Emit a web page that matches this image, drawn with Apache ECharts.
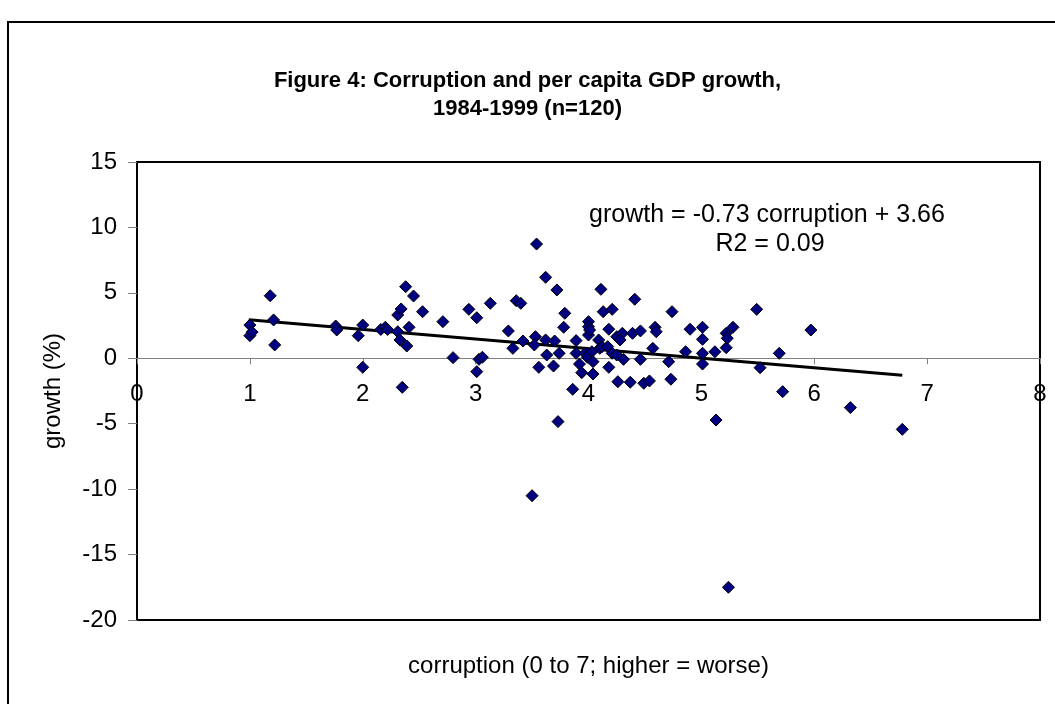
<!DOCTYPE html>
<html>
<head>
<meta charset="utf-8">
<script src="https://cdn.jsdelivr.net/npm/echarts@6/dist/echarts.min.js"></script>
<style>
html,body{margin:0;padding:0;background:#fff;}
#chart{width:1055px;height:704px;}
</style>
</head>
<body>
<div id="chart"></div>
<script>
// Data (corruption score, per capita GDP growth %)
var corruption = [
 1.00,1.00,1.02,1.18,1.21,1.22,1.76,1.77,1.96,2.00,2.00,2.16,2.20,2.22,2.31,2.34,2.31,2.33,2.39,2.35,
 2.41,2.38,2.45,2.53,2.71,2.80,2.94,3.01,3.13,3.03,3.06,3.01,3.29,3.33,3.36,3.40,3.42,3.53,3.52,3.62,
 3.72,3.63,3.69,3.56,3.62,3.70,3.54,3.79,3.78,3.74,3.86,3.73,3.89,3.89,3.92,3.94,4.00,4.00,4.00,4.01,
 3.97,3.99,4.03,4.04,4.04,4.09,4.10,4.11,4.13,4.21,4.12,4.17,4.18,4.18,4.21,4.25,4.26,4.25,4.30,4.28,
 4.31,4.37,4.39,4.41,4.46,4.46,4.49,4.54,4.57,4.59,4.60,4.71,4.73,4.74,4.86,4.90,5.01,5.01,5.01,5.01,
 5.12,5.13,5.22,5.22,5.23,5.28,5.49,5.52,5.97,5.69,5.72,6.32,6.78,3.50,5.24
];
var growth = [
 2.54,1.73,2.00,4.78,2.93,1.02,2.47,2.16,1.73,2.54,-0.69,2.20,2.37,2.20,3.31,3.77,2.03,1.40,0.94,-2.22,
 2.37,5.47,4.76,3.56,2.80,0.05,3.74,3.10,4.20,-0.08,0.08,-1.02,2.09,0.76,4.40,4.20,1.32,1.65,1.02,6.19,
 5.22,0.25,-0.59,-0.69,1.40,1.32,8.73,3.44,2.37,0.38,-2.37,-4.84,1.35,0.38,-0.44,-1.10,2.80,2.41,1.78,2.16,
 0.38,0.08,0.50,-0.26,-1.20,1.40,0.76,5.27,3.56,3.74,0.89,0.89,2.22,-0.69,0.38,0.25,-1.79,1.65,1.91,1.40,
 -0.08,-1.83,1.91,4.51,2.09,-0.08,-1.91,-1.73,0.76,2.37,2.03,-0.26,-1.60,3.56,0.50,2.22,2.37,1.45,0.38,-0.44,
 0.50,-4.72,1.91,0.81,1.53,2.37,3.74,-0.72,2.16,0.38,-2.55,-3.77,-5.43,-10.50,-17.50
];
// Trend line end points as drawn
var trendX = [0.99, 6.78];
var trendY = [2.94, -1.29];
var xTicks = [0,1,2,3,4,5,6,7,8];
var yTicks = [-20,-15,-10,-5,0,5,10,15];
var titleLines = ['Figure 4: Corruption and per capita GDP growth,', '1984-1999 (n=120)'];
var equationLines = ['growth = -0.73 corruption + 3.66', 'R2 = 0.09'];

var points = corruption.map(function(c, i){ return [c, growth[i]]; });
var trend = trendX.map(function(x, i){ return [x, trendY[i]]; });

var FONT = "'Liberation Sans', Arial, sans-serif";
var W = 1055, H = 704;
var G = {left: 137, top: 162, right: 15, bottom: 84};
var yMin = -20, yMax = 15;
var gridH = H - G.top - G.bottom;
// move the x axis (line, ticks, labels) up to y = 0
var xOffset = -gridH * (0 - yMin) / (yMax - yMin);

var chart = echarts.init(document.getElementById('chart'), null, {renderer:'canvas'});
chart.setOption({
  backgroundColor: '#ffffff',
  animation: false,
  title: {
    text: titleLines.join('\n'),
    left: 'center',
    top: 62,
    textStyle: {fontFamily: FONT, fontSize: 22, fontWeight: 'bold', color: '#000', lineHeight: 28}
  },
  graphic: [
    {type:'rect', shape:{x:8, y:22, width:1200, height:900}, style:{fill:'none', stroke:'#000', lineWidth:2}, silent:true, z:100},
    {type:'text', x: 767, y: 215, style:{text: equationLines[0], align:'center', verticalAlign:'middle', font: '25px ' + FONT, fill:'#000'}, z:100},
    {type:'text', x: 770, y: 244, style:{text: equationLines[1], align:'center', verticalAlign:'middle', font: '25px ' + FONT, fill:'#000'}, z:100}
  ],
  grid: {left: G.left, top: G.top, right: G.right, bottom: G.bottom, containLabel: false, outerBoundsMode: 'none',
         show: true, borderColor: '#000', borderWidth: 2, backgroundColor: 'transparent'},
  xAxis: {
    type: 'value', min: 0, max: 8, interval: 1, position: 'bottom', offset: xOffset,
    name: 'corruption (0 to 7; higher = worse)', nameLocation: 'middle', nameGap: 296,
    nameTextStyle: {fontFamily: FONT, fontSize: 24, color: '#000'},
    axisLine: {show: true, onZero: false, lineStyle: {color: '#808080', width: 1}},
    axisTick: {show: true, inside: false, length: 6, lineStyle: {color: '#808080'}},
    axisLabel: {fontFamily: FONT, fontSize: 24, color: '#000', margin: 24, hideOverlap: false,
      formatter: function(v){ return xTicks.indexOf(v) >= 0 ? String(v) : ''; }},
    splitLine: {show: false}
  },
  yAxis: {
    type: 'value', min: yMin, max: yMax, interval: 5,
    name: 'growth (%)', nameLocation: 'middle', nameGap: 72, nameRotate: 90,
    nameTextStyle: {fontFamily: FONT, fontSize: 24, color: '#000'},
    axisLine: {show: false, onZero: false},
    axisTick: {show: true, inside: false, length: 9, lineStyle: {color: '#808080'}},
    axisLabel: {fontFamily: FONT, fontSize: 24, color: '#000', margin: 20, hideOverlap: false,
      formatter: function(v){ return yTicks.indexOf(v) >= 0 ? String(v) : ''; }},
    splitLine: {show: false}
  },
  series: [
    {
      type: 'line', data: trend, symbol: 'none', z: 3,
      lineStyle: {color: '#000', width: 3}
    },
    {
      type: 'scatter', data: points, symbol: 'diamond', symbolSize: 12, z: 4,
      itemStyle: {color: '#000080', borderColor: '#000', borderWidth: 1, opacity: 1}
    }
  ]
});
</script>
</body>
</html>
